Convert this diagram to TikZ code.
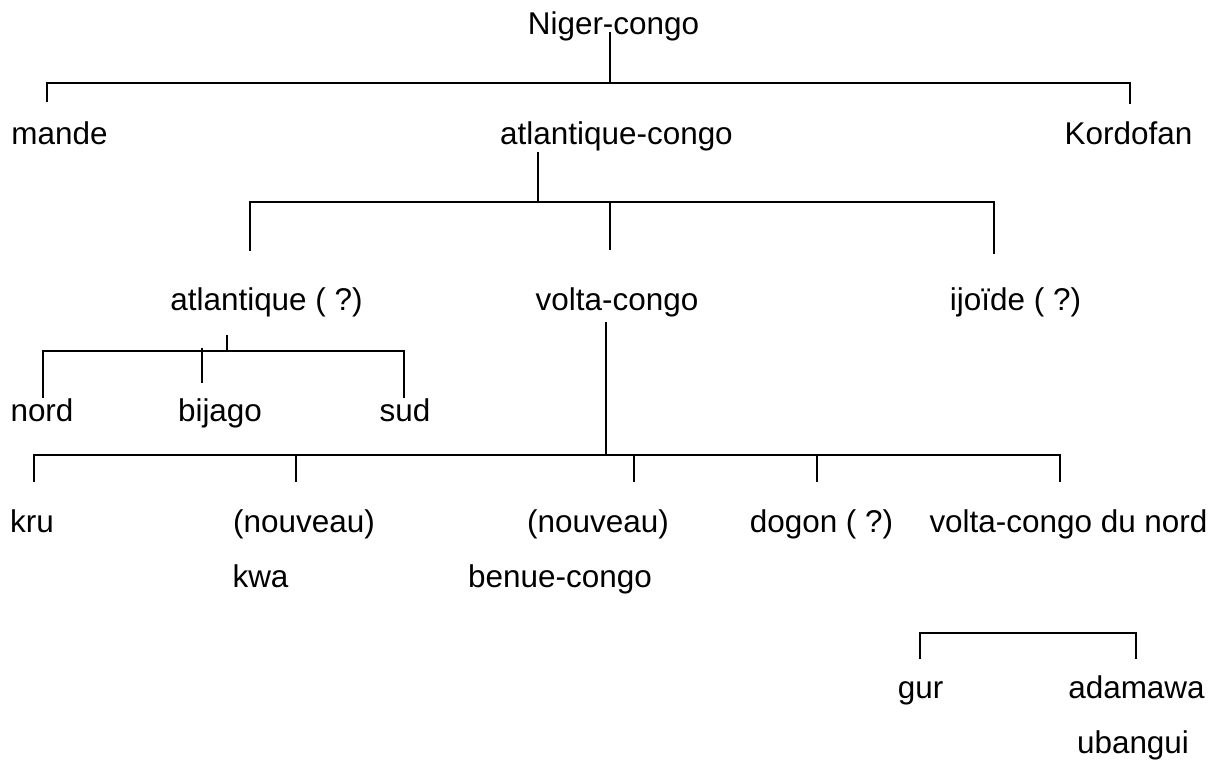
\documentclass[tikz,border=0pt]{standalone}
\usepackage{fontspec}
\setmainfont{Liberation Sans}

\tikzset{
  lang/.style={anchor=base, inner sep=0pt, font=\fontsize{17.9}{20}\selectfont},
  branch/.style={line width=1pt}
}

\begin{document}
\begin{tikzpicture}[x=0.02cm, y=-0.02cm]
\useasboundingbox (0,0) rectangle (1228,760);

% language names
\node[lang] (niger)   at (613.5,35)  {Niger-congo};
\node[lang] (mande)   at (59.5,145)  {mande};
\node[lang] (atlcongo) at (616.5,145) {atlantique-congo};
\node[lang] (kordofan) at (1128.5,145) {Kordofan};
\node[lang] (atl)     at (266.5,311) {atlantique ( ?)};
\node[lang] (volta)   at (617,311)   {volta-congo};
\node[lang] (ijo)     at (1015.5,311) {ijoïde ( ?)};
\node[lang] (nord)    at (42,421)    {nord};
\node[lang] (bijago)  at (220,421)   {bijago};
\node[lang] (sud)     at (405,421)   {sud};
\node[lang] (kru)     at (32,532)    {kru};
\node[lang] (kwaA)    at (304,532)   {(nouveau)};
\node[lang] (kwaB)    at (260.5,587) {kwa};
\node[lang] (benueA)  at (598,532)   {(nouveau)};
\node[lang] (benueB)  at (560,587)   {benue-congo};
\node[lang] (dogon)   at (821.5,532) {dogon ( ?)};
\node[lang] (vcnord)  at (1068.5,532) {volta-congo du nord};
\node[lang] (gur)     at (920.5,698) {gur};
\node[lang] (adaA)    at (1136.5,698) {adamawa};
\node[lang] (adaB)    at (1133,753)  {ubangui};

% Niger-congo
\coordinate (NC)  at (610,32);
\coordinate (g1a) at (47,83);
\coordinate (g1b) at (1130,83);
\draw[branch] (NC) -- (NC |- g1a);
\draw[branch] (g1a) ++(0,19) -- (g1a) -- (g1b) -- ++(0,21);

% atlantique-congo
\coordinate (AC)  at (538,152);
\coordinate (g2a) at (250,202);
\coordinate (g2m) at (610,202);
\coordinate (g2b) at (994,202);
\draw[branch] (AC) -- (AC |- g2a);
\draw[branch] (g2a) ++(0,49) -- (g2a) -- (g2b) -- ++(0,52);
\draw[branch] (g2m) -- ++(0,48);

% atlantique
\coordinate (AT)  at (227,335);
\coordinate (g3a) at (43,351);
\coordinate (g3m) at (202,348);
\coordinate (g3b) at (404,351);
\draw[branch] (AT) -- (AT |- g3a);
\draw[branch] (g3a) ++(0,47) -- (g3a) -- (g3b) -- ++(0,47);
\draw[branch] (g3m) -- ++(0,35);

% volta-congo
\coordinate (VC)  at (606,322);
\coordinate (g4a) at (34,455);
\coordinate (g4b) at (1060,455);
\draw[branch] (VC) -- (VC |- g4a);
\draw[branch] (g4a) ++(0,27) -- (g4a) -- (g4b) -- ++(0,27);
\draw[branch] (296,455) -- ++(0,27);
\draw[branch] (634,455) -- ++(0,27);
\draw[branch] (817,455) -- ++(0,27);

% volta-congo du nord
\coordinate (g5a) at (920,633);
\coordinate (g5b) at (1136,633);
\draw[branch] (g5a) ++(0,26) -- (g5a) -- (g5b) -- ++(0,26);
\end{tikzpicture}
\end{document}
